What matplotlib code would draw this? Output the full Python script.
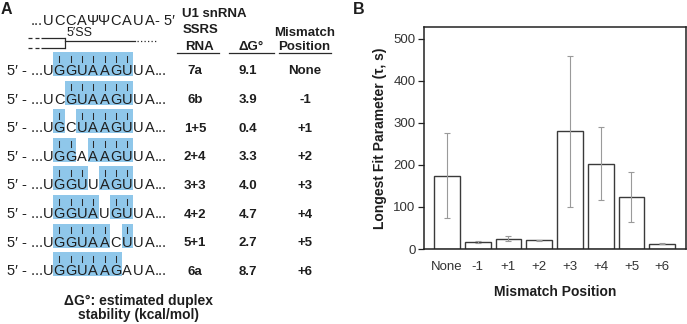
import matplotlib
matplotlib.use("Agg")
import matplotlib.pyplot as plt
from matplotlib.patches import Rectangle

# ---------------- data ----------------
u1_seq = ["U", "C", "C", "A", "Ψ", "Ψ", "C", "A", "U", "A"]
ssrs_names = ["7a", "6b", "1+5", "2+4", "3+3", "4+2", "5+1", "6a"]
sequences = ["UGGUAAGUUA", "UCGUAAGUUA", "UGCUAAGUUA", "UGGAAAGUUA",
             "UGGUUAGUUA", "UGGUAUGUUA", "UGGUAACUUA", "UGGUAAGAUA"]
paired = ["0111111100", "0011111100", "0101111100", "0110111100",
          "0111011100", "0111101100", "0111110100", "0111111000"]
delta_g = ["9.1", "3.9", "0.4", "3.3", "4.0", "4.7", "2.7", "8.7"]
mismatch_pos = ["None", "-1", "+1", "+2", "+3", "+4", "+5", "+6"]

tau_values = [174, 17.5, 24.6, 20.6, 280, 203, 124, 12.7]
tau_errors = [101, 2.5, 6.5, 2.0, 179, 87, 60, 1.0]
y_ticks = [0, 100, 200, 300, 400, 500]

# ---------------- figure ----------------
FONT = ["Liberation Sans", "DejaVu Sans"]
plt.rcParams["font.family"] = FONT
W, H = 687, 324
fig = plt.figure(figsize=(W / 100, H / 100), dpi=100)

axA = fig.add_axes([0, 0, 1, 1])
axA.set_xlim(0, W)
axA.set_ylim(H, 0)
axA.axis("off")

TXT = "#1e1e1e"
BLUE = "#8fc7ea"
seq_fs = 10.5
col_fs = 9.5

x0 = 47.8     # centre of position 0
pitch = 11.35

def xc(i):
    return x0 + pitch * i

# panel label A
axA.text(1, 14.5, "A", fontsize=11.5, fontweight="bold", color=TXT, va="baseline", ha="left")

# U1 snRNA 5' end
axA.text(xc(0) - pitch / 2 + 0.5, 25, "...", fontsize=seq_fs, color=TXT, va="baseline", ha="right")
for i, ch in enumerate(u1_seq):
    axA.text(xc(i), 25, ch, fontsize=seq_fs, color=TXT, va="baseline", ha="center")
axA.text(xc(9) + pitch / 2 - 0.5, 25, "- 5′", fontsize=seq_fs, color=TXT, va="baseline", ha="left")

# exon / intron schematic
lc = "#2a2a2a"
for yy in (38, 48):
    for xa, xb in ((28, 32), (34.5, 38.5), (41, 65)):
        axA.plot([xa, xb], [yy, yy], color=lc, lw=0.9, solid_capstyle="butt")
axA.plot([65, 65], [38, 48], color=lc, lw=0.9)
axA.plot([65, 135], [40.5, 40.5], color=lc, lw=0.9)
axA.plot([137, 156], [40.5, 40.5], color=lc, lw=0.9, linestyle=(0, (1, 1.8)))
axA.text(67, 36.5, "5′SS", fontsize=9, color=TXT, va="baseline", ha="left")

# headers
hdr = dict(fontsize=col_fs, fontweight="bold", color=TXT, va="baseline")
axA.text(182.5, 17, "U1 snRNA", ha="left", **hdr)
axA.text(182.5, 33, "SSRS", ha="left", **hdr)
axA.text(199, 50.5, "RNA", ha="center", **hdr)
axA.text(251, 50.5, "ΔG°", ha="center", **hdr)
axA.text(305, 36, "Mismatch", ha="center", **hdr)
axA.text(304, 50.5, "Position", ha="center", **hdr)
for xa, xb in ((177, 219), (229, 274), (279, 331)):
    axA.plot([xa, xb], [53.4, 53.4], color=lc, lw=0.9)

# rows
top0 = 52.0
row_step = 28.6
box_h = 24.0
for r, (seq, pm) in enumerate(zip(sequences, paired)):
    top = top0 + row_step * r
    base = top + 23.0
    # highlight boxes for contiguous paired runs
    i = 0
    while i < len(pm):
        if pm[i] == "1":
            j = i
            while j + 1 < len(pm) and pm[j + 1] == "1":
                j += 1
            axA.add_patch(Rectangle((xc(i) - pitch / 2, top), (j - i + 1) * pitch, box_h,
                                    facecolor=BLUE, edgecolor="none", zorder=0))
            i = j + 1
        else:
            i += 1
    for k, ch in enumerate(seq):
        axA.text(xc(k), base, ch, fontsize=seq_fs, color=TXT, va="baseline", ha="center", zorder=2)
        if pm[k] == "1":
            axA.plot([xc(k), xc(k)], [top + 3.5, top + 9.5], color="#2a2a2a", lw=0.75, zorder=2)
    axA.text(xc(0) - pitch / 2 + 0.5, base, "5′ - ...", fontsize=seq_fs, color=TXT,
             va="baseline", ha="right")
    axA.text(xc(9) + pitch / 2 - 0.5, base, "...", fontsize=seq_fs, color=TXT,
             va="baseline", ha="left")
    cb = base - 0.5
    axA.text(195, cb, ssrs_names[r], ha="center", **hdr)
    axA.text(248, cb, delta_g[r], ha="center", **hdr)
    axA.text(305, cb, mismatch_pos[r], ha="center", **hdr)

# caption
axA.text(139, 304.5, "ΔG°: estimated duplex", fontsize=10, fontweight="bold", color=TXT,
         ha="center", va="baseline")
axA.text(139, 318.5, "stability (kcal/mol)", fontsize=10, fontweight="bold", color=TXT,
         ha="center", va="baseline")

# panel label B
axA.text(353, 14, "B", fontsize=11.5, fontweight="bold", color=TXT, va="baseline", ha="left")

# ---------------- panel B ----------------
L, R, T, B = 424, 685.5, 26.7, 249
axB = fig.add_axes([L / W, 1 - B / H, (R - L) / W, (B - T) / H])
xpos = list(range(len(mismatch_pos)))
axB.bar(xpos, tau_values, width=0.84, facecolor="white", edgecolor="#3a3a3a", linewidth=1.0,
        zorder=2)
axB.errorbar(xpos, tau_values, yerr=tau_errors, fmt="none", ecolor="#9a9a9a", elinewidth=0.8,
             capsize=2.5, capthick=0.8, zorder=3)
axB.set_xlim(-0.745, 7.756)
axB.set_ylim(0, 529)
axB.set_yticks(y_ticks)
axB.set_xticks(xpos)
axB.set_xticklabels(mismatch_pos)
for sp in axB.spines.values():
    sp.set_color("#222222")
    sp.set_linewidth(1.1)
axB.tick_params(axis="y", length=4, width=0.9, color="#222222", labelsize=9.5,
                labelcolor="#333333", pad=2)
axB.tick_params(axis="x", length=0, labelsize=9.5, labelcolor="#333333", pad=9)
axB.set_xlabel("Mismatch Position", fontsize=10, fontweight="bold", color=TXT)
axB.set_ylabel("Longest Fit Parameter (τ, s)", fontsize=10, fontweight="bold", color=TXT)
axB.xaxis.set_label_coords(0.5, (B - 292) / (B - T))
axB.xaxis.label.set_va("center")
axB.yaxis.set_label_coords((380 - L) / (R - L), 0.5)
axB.yaxis.label.set_va("center")

fig.savefig("out.png", dpi=100)
